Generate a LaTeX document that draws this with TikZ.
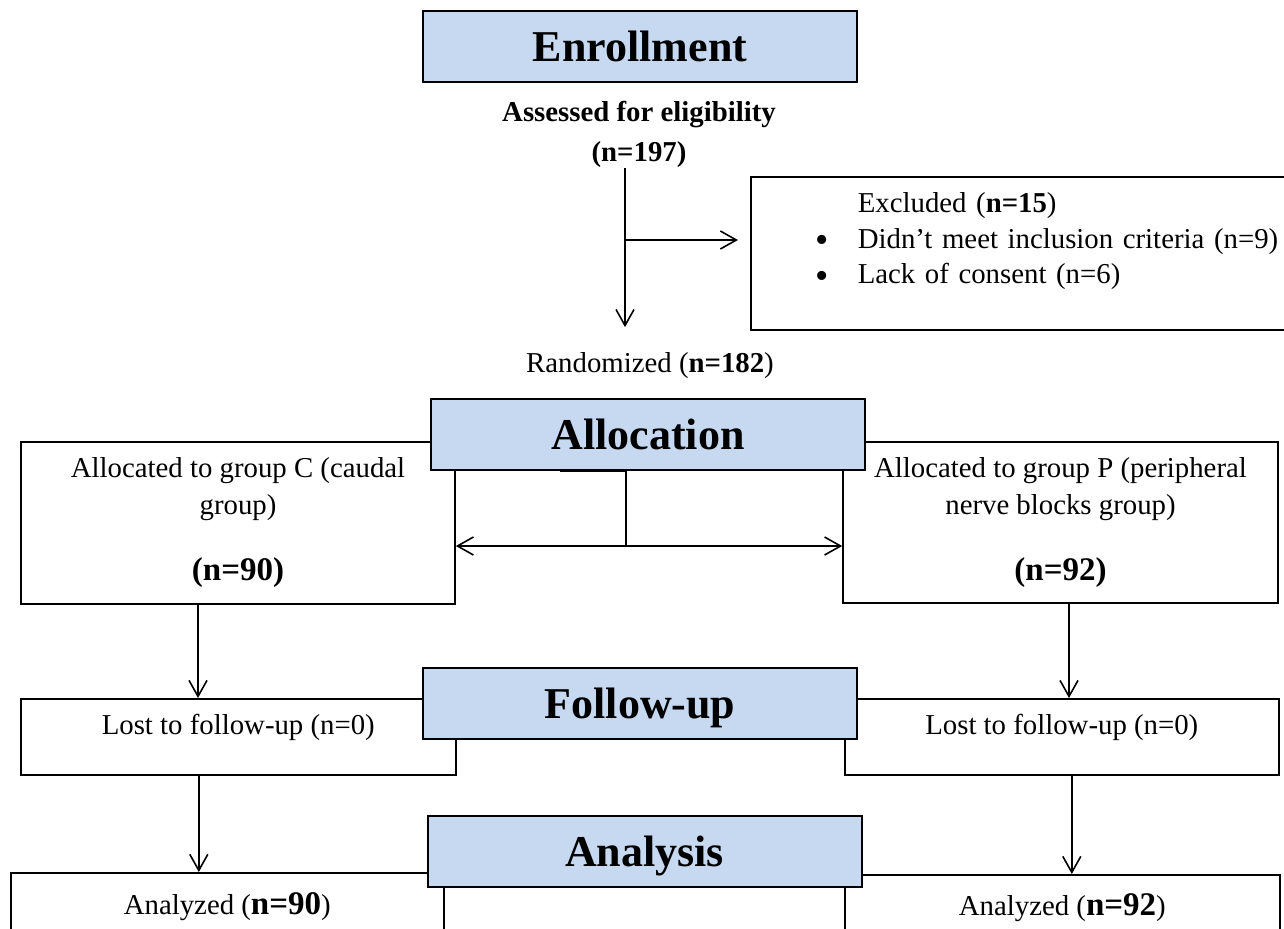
\documentclass[tikz,border=0pt]{standalone}
\usepackage{fontspec}
\setmainfont{Liberation Serif}
\usetikzlibrary{arrows.meta}
\definecolor{phasefill}{RGB}{198,217,241}
\newcommand{\bodyfont}{\fontsize{14.4}{18.5}\selectfont}
\newcommand{\bignum}{\fontsize{16.5}{18.5}\selectfont\bfseries}
\newcommand{\bigdot}{\makebox[21pt][l]{\fontsize{19}{17.7}\selectfont\raisebox{-2.3pt}{\textbullet}}}

\begin{document}
\begin{tikzpicture}[x=0.5pt, y=-0.5pt, line width=0.8pt,
			phase/.style={draw, fill=phasefill, line width=1pt, minimum width=217pt, minimum height=35.5pt,
				font=\fontsize{22}{26}\selectfont\bfseries, text height=15pt, text depth=0pt},
			box/.style={draw, fill=white, inner ysep=0pt, font=\bodyfont},
			arr/.style={-{Straight Barb[length=8pt,width=9pt]}}]
			\useasboundingbox (0,0) rectangle (1284,928);
			\clip (0,0) rectangle (1284,928);
			\node[font=\fontsize{14.4}{20}\selectfont\bfseries, align=center, inner sep=0pt] (assess) at (639,134) {Assessed for eligibility\\(n=197)};
			\node[font=\bodyfont, inner ysep=12.5pt] (rand) at (650,366) {Randomized (\textbf{n=182})};
			\node[box, anchor=north west, minimum height=76.5pt, inner xsep=31pt, text width=240pt, align=left,
				font=\fontsize{14.4}{17.7}\selectfont] (excl) at (750,176) {\hspace*{22.5pt}Excluded (\textbf{n=15})\\
				\hspace*{1.5pt}\bigdot Didn’t meet inclusion criteria (n=9)\\
				\hspace*{1.5pt}\bigdot Lack of consent (n=6)\rule[-15pt]{0pt}{15pt}};
			\node[box, minimum width=217pt, minimum height=81pt, align=center] (allocC) at (238,523)
				{Allocated to group C (caudal\\group)\\[14.5pt]{\bignum (n=90)}};
			\node[box, minimum width=217.5pt, minimum height=80.5pt, align=center] (allocP) at (1060.5,522.5)
				{Allocated to group P (peripheral\\nerve blocks group)\\[14.5pt]{\bignum (n=92)}};
			\node[box, anchor=north west, minimum width=217.5pt, text height=18pt, text depth=20pt] (lostC) at (20,698) {Lost to follow-up (n=0)};
			\node[box, anchor=north west, minimum width=217pt, text height=18pt, text depth=20pt] (lostP) at (844,698) {Lost to follow-up (n=0)};
			\node[box, anchor=north west, minimum width=216.5pt, text height=21pt, text depth=50pt] (anaC) at (10,872) {Analyzed ({\bignum n=90})};
			\node[box, anchor=north west, minimum width=217.5pt, text height=20.5pt, text depth=50pt] (anaP) at (844,874) {Analyzed ({\bignum n=92})};
			\node[phase] (enroll) at (640,46.5) {Enrollment};
			\node[phase] (alloc) at (648,434) {Allocation};
			\node[phase] (follow) at (640,703.5) {Follow-up};
			\node[phase] (analysis) at (644.5,851.5) {Analysis};
			\coordinate (branch) at (625,240);
			\coordinate (split) at (626,546);
			\coordinate (stub) at (560,471);
			\draw[arr] (assess.south -| branch) -- (rand.north -| branch);
			\draw[arr, shorten >=6pt] (branch) -- (branch -| excl.west);
			\draw[line width=1.4pt] (stub) -- (stub -| split);
			\draw (alloc.south -| split) -- (split);
			\draw[arr] (split) -- (split -| allocC.east);
			\draw[arr] (split) -- (split -| allocP.west);
			\draw[arr] ([xshift=-20pt]allocC.south) -- ([xshift=-20pt]allocC.south |- lostC.north);
			\draw[arr] ([xshift=4.25pt]allocP.south) -- ([xshift=4.25pt]allocP.south |- lostP.north);
			\draw[arr] ([xshift=-19.75pt]lostC.south) -- ([xshift=-19.75pt]lostC.south |- anaC.north);
			\draw[arr] ([xshift=5pt]lostP.south) -- ([xshift=5pt]lostP.south |- anaP.north);
		\end{tikzpicture}
\end{document}
